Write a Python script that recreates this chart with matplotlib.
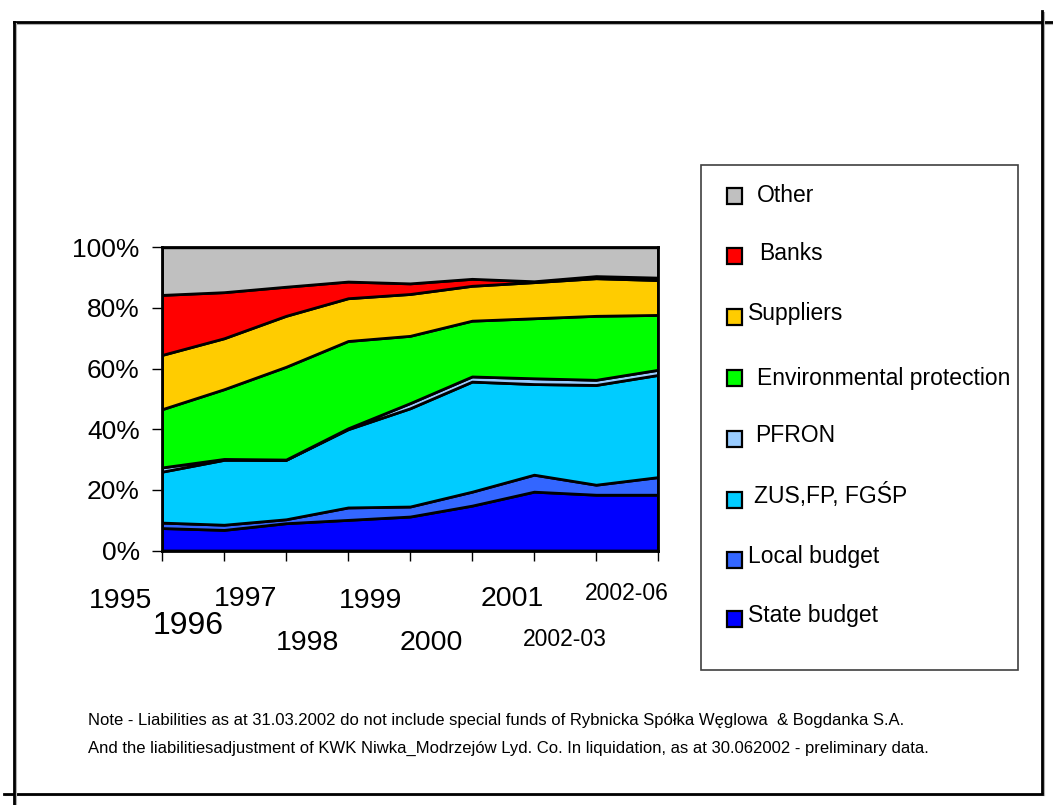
import numpy as np
import matplotlib
matplotlib.use('Agg')
import matplotlib.pyplot as plt
from matplotlib.patches import Rectangle
from matplotlib.lines import Line2D

plt.rcParams['font.family'] = ['Liberation Sans', 'DejaVu Sans']

# ── Data (share of liabilities, %) ──
periods = ['1995', '1996', '1997', '1998', '1999', '2000', '2001', '2002-03', '2002-06']
state_budget = [7.4, 6.8, 9.0, 10.1, 11.2, 14.8, 19.4, 18.4, 18.4]
local_budget = [1.8, 1.7, 1.3, 4.1, 3.3, 4.6, 5.6, 3.3, 5.8]
zus_fp_fgsp = [16.8, 21.4, 19.6, 25.8, 32.4, 36.3, 29.9, 32.9, 33.7]
pfron = [1.4, 0.3, 0.1, 0.3, 1.7, 1.7, 1.9, 1.7, 1.7]
environmental = [19.2, 23.0, 30.6, 28.8, 22.2, 18.4, 19.8, 21.1, 18.1]
suppliers = [17.9, 16.8, 16.8, 14.1, 13.8, 11.5, 11.9, 12.4, 11.5]
banks = [19.8, 15.2, 9.6, 5.5, 3.5, 2.3, 0.3, 0.7, 0.8]
other = [15.7, 14.8, 13.0, 11.3, 11.9, 10.4, 11.2, 9.5, 10.0]

legend_labels = ['State budget', 'Local budget', 'ZUS,FP, FGŚP', 'PFRON',
                 'Environmental protection', 'Suppliers', 'Banks', 'Other']
colors = ['#0000FF', '#3366FF', '#00CCFF', '#99CCFF',
          '#00FF00', '#FFCC00', '#FF0000', '#C0C0C0']

W, H = 1053, 805
fig = plt.figure(figsize=(W / 100, H / 100), dpi=100)
ax = fig.add_axes([162 / W, 1 - 550.5 / H, 496 / W, 303.2 / H])

x = np.arange(len(periods))
vals = np.array([state_budget, local_budget, zus_fp_fgsp, pfron,
                 environmental, suppliers, banks, other])
vals = vals / vals.sum(axis=0) * 100
ax.stackplot(x, vals, colors=colors, edgecolor='black', linewidth=2)

ax.set_xlim(0, len(periods) - 1)
ax.set_ylim(0, 100)
ax.set_yticks(np.arange(0, 101, 20))
ax.set_yticklabels([f'{v}%' for v in range(0, 101, 20)], fontsize=19)
ax.set_xticks(x)
ax.set_xticklabels([])
ax.tick_params(axis='both', direction='out', length=7, width=1, pad=9)
for s in ax.spines.values():
    s.set_linewidth(2)
    s.set_zorder(5)

# staggered category labels (offset in pixels from the tick)
lab_off = [(-41, -51, 20.5), (-36, -76, 23), (-40, -48, 20.5), (-40, -93, 20.5),
           (-39, -50, 20.5), (-41, -93, 20.5), (-22, -48, 20.5), (-31, -89, 16.5),
           (-31, -43, 16.5)]
for i, (lab, (dx, dy, fs)) in enumerate(zip(periods, lab_off)):
    ax.annotate(lab, xy=(i, 0), xycoords=('data', 'axes fraction'),
                xytext=(dx, dy), textcoords='offset pixels',
                ha='center', va='center', fontsize=fs, annotation_clip=False)

# ── Legend box (drawn by hand to match spacing) ──
def fx(px):
    return px / W

def fy(py):
    return 1 - py / H

fig.patches.append(Rectangle((fx(701), fy(670)), fx(1018) - fx(701), fy(165) - fy(670),
                             transform=fig.transFigure, fill=False,
                             edgecolor='#404040', linewidth=1.2))
text_y = [615, 556, 495, 435, 378, 313, 253, 195]
box_y = [619, 560, 500, 439, 378, 317, 256, 196]
text_x = [748, 748, 754, 755, 757, 748, 759, 757]
for lab, c, ty, by, tx in zip(legend_labels, colors, text_y, box_y, text_x):
    fig.patches.append(Rectangle((fx(727), fy(by + 8)), fx(15), 16 / H,
                                 transform=fig.transFigure, facecolor=c,
                                 edgecolor='black', linewidth=1.6))
    fig.text(fx(tx), fy(ty), lab, fontsize=16.5, ha='left', va='center')

# ── Note ──
fig.text(fx(88), fy(720), 'Note - Liabilities as at 31.03.2002 do not include special funds of '
         'Rybnicka Spółka Węglowa  & Bogdanka S.A.', fontsize=12, ha='left', va='center')
fig.text(fx(88), fy(748), 'And the liabilitiesadjustment of KWK Niwka_Modrzejów Lyd. Co. '
         'In liquidation, as at 30.062002 - preliminary data.', fontsize=12,
         ha='left', va='center')

# ── Outer frame lines ──
frame = [((14, 1053), (22.5, 22.5)), ((1042, 1042), (11, 793.5)),
         ((4, 1042), (793.5, 793.5)), ((14, 14), (22.5, 805))]
for (xs, ys) in frame:
    fig.add_artist(Line2D([fx(xs[0]) + 0.0015, fx(xs[1]) + 0.0015],
                          [fy(ys[0]) - 0.002, fy(ys[1]) - 0.002],
                          transform=fig.transFigure, color='#b0b0b0', linewidth=1.5))
    fig.add_artist(Line2D([fx(xs[0]), fx(xs[1])], [fy(ys[0]), fy(ys[1])],
                          transform=fig.transFigure, color='black', linewidth=2))

fig.savefig('out.png', dpi=100)
